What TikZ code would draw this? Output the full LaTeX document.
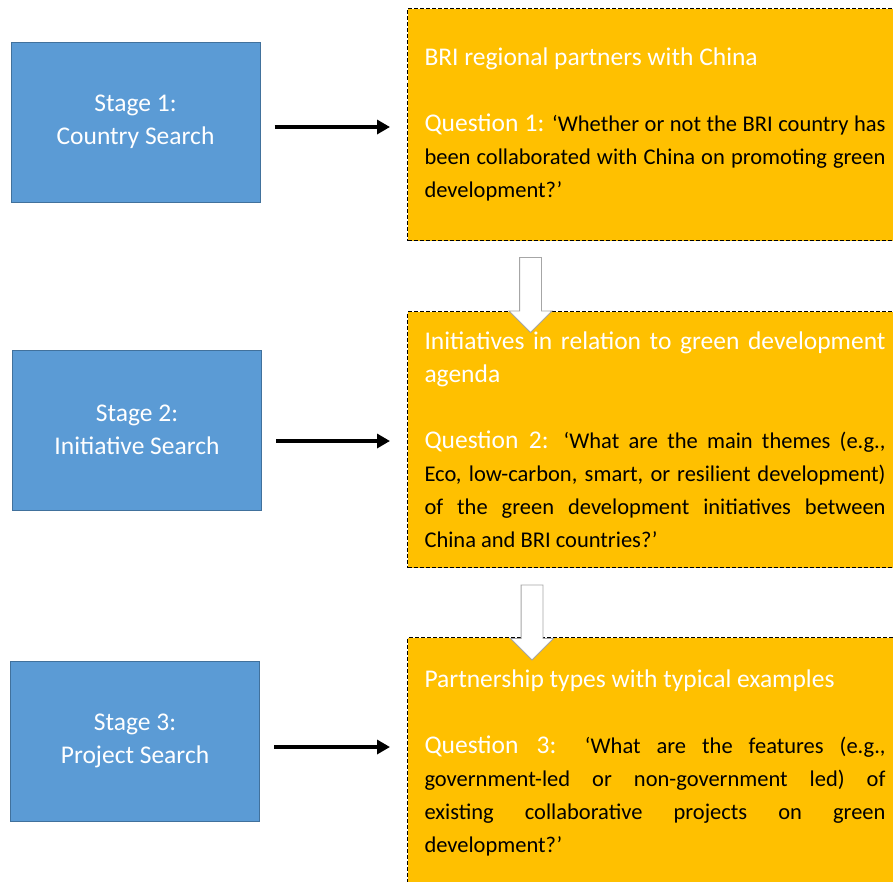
\documentclass[tikz,border=0pt]{standalone}
\usepackage{fontspec}
\setmainfont{Carlito}
\usetikzlibrary{arrows.meta,shapes.arrows}

\definecolor{stageblue}{HTML}{5B9BD5}
\definecolor{stageedge}{HTML}{41719C}
\definecolor{boxgold}{HTML}{FFC000}
\definecolor{hintgray}{HTML}{A6A6A6}

\newcommand{\headfont}{\fontsize{25.5}{33}\selectfont}
\newcommand{\askfont}{\fontsize{22.5}{33}\selectfont}
\newcommand{\heading}[1]{{\headfont\color{white}#1}}

\tikzset{
	stage/.style={draw=stageedge, fill=stageblue, line width=1pt, text=white,
		font=\headfont, align=center, minimum width=249pt, minimum height=160pt},
	finding/.style={draw=black, line width=1pt, dash pattern=on 4pt off 2pt,
		fill=boxgold, anchor=north west, text width=461pt, inner xsep=17pt,
		align=justify, font=\askfont},
	flow/.style={line width=4.5pt, -{Triangle[length=13pt,width=14pt]},
		shorten <=14pt, shorten >=17pt},
	hint/.style={single arrow, draw=hintgray, fill=white, line width=0.8pt,
		rotate=-90, inner xsep=0pt, inner ysep=10.5pt, text height=0pt, text depth=0pt,
		single arrow head extend=10.5pt, minimum height=75pt}
}

\begin{document}
\begin{tikzpicture}[x=1pt,y=-1pt]
	\useasboundingbox[fill=white] (0,0) rectangle (893,881);
	\clip (0,0) rectangle (893,881);
	% stages on the left
	\node[stage] (s1) at (135.5,122) {Stage 1:\\Country Search};
	\node[stage] (s2) at (137,430) {Stage 2:\\Initiative Search};
	\node[stage] (s3) at (135,741) {Stage 3:\\Project Search};
	% search questions on the right
	\node[finding, minimum height=232pt] (q1) at (407,8) {%
		\heading{BRI regional partners with China}\\[33pt]
		\heading{Question 1:} ‘Whether or not the BRI country has\linebreak
		been collaborated with China on promoting green\linebreak
		development?’};
	\node[finding, minimum height=256pt] (q2) at (407,311) {%
		\heading{Initiatives in relation to green development\linebreak agenda}\\[33pt]
		\heading{Question 2:} ‘What are the main themes (e.g.,\linebreak
		Eco, low-carbon, smart, or resilient development)\linebreak
		of the green development initiatives between\linebreak
		China and BRI countries?’};
	\node[finding, minimum height=251pt] (q3) at (407,637) {%
		\heading{Partnership types with typical examples}\\[33pt]
		\heading{Question 3:} ‘What are the features (e.g.,\linebreak
		government-led or non-government led) of\linebreak
		existing collaborative projects on green\linebreak
		development?’};
	% stage to question
	\draw[flow] ([yshift=-5pt]s1.east) -- ([yshift=-5pt]s1.east -| q1.west);
	\draw[flow] ([yshift=-11pt]s2.east) -- ([yshift=-11pt]s2.east -| q2.west);
	\draw[flow] ([yshift=-6pt]s3.east) -- ([yshift=-6pt]s3.east -| q3.west);
	% hollow arrows between questions
	\node[hint] (h1) at (530.5,289.5) {};
	\node[hint] (h2) at (532,617) {};
\end{tikzpicture}
\end{document}
